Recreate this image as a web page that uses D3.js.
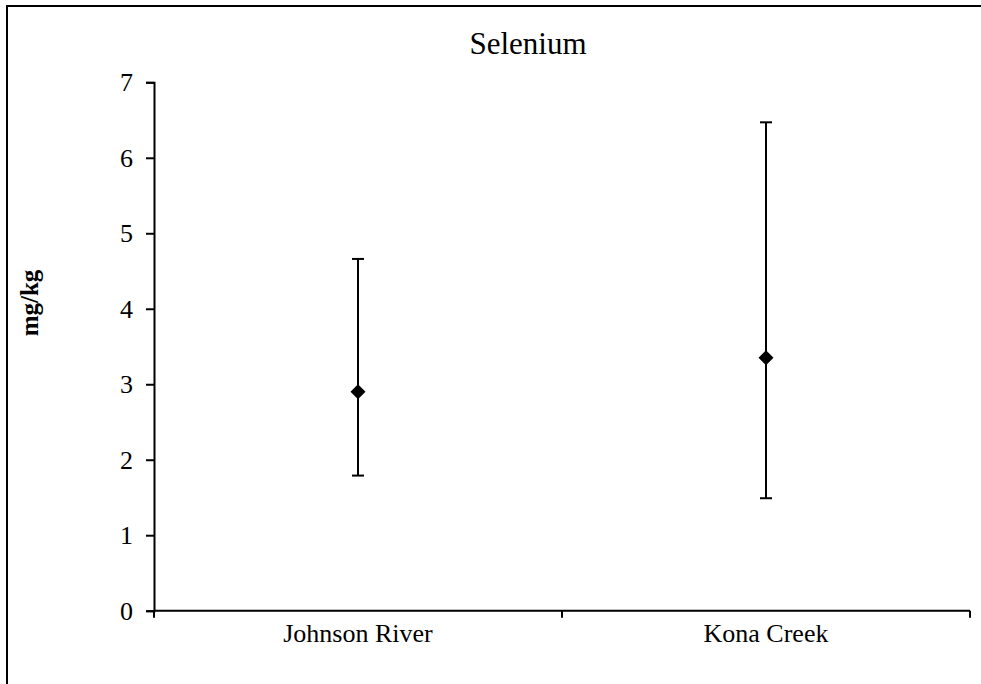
<!DOCTYPE html>
<html>
<head>
<meta charset="utf-8">
<script src="https://cdn.jsdelivr.net/npm/d3@7"></script>
<style>
  body { margin: 0; background: #fff; }
  svg { display: block; }
</style>
</head>
<body>
<svg id="chart" width="981" height="684"></svg>
<script>
// 数据
const sites = ["Johnson River", "Kona Creek"];
const means = [2.9, 3.35];
const lows = [1.79, 1.49];
const highs = [4.66, 6.47];
const yTicks = [0, 1, 2, 3, 4, 5, 6, 7];

const FONT = "'Liberation Serif', 'Times New Roman', serif";
const svg = d3.select("#chart");

// 外框（右侧与底部超出画面）
svg.append("rect")
  .attr("x", 7).attr("y", 6)
  .attr("width", 990).attr("height", 700)
  .attr("fill", "none")
  .attr("stroke", "#000")
  .attr("stroke-width", 2);

const plotLeft = 154, plotRight = 970, plotTop = 82.3, plotBottom = 610.7;

const x = d3.scaleBand().domain(sites).range([plotLeft, plotRight]);
const y = d3.scaleLinear().domain([0, 7]).range([plotBottom, plotTop]);

// y轴
const yAxis = svg.append("g")
  .attr("transform", `translate(${plotLeft},0)`)
  .call(d3.axisLeft(y).tickValues(yTicks).tickSize(8).tickPadding(13).tickFormat(d3.format("d")));
yAxis.selectAll("text")
  .style("font-family", FONT)
  .style("font-size", "26px")
  .style("fill", "#000");

// x轴
const xAxis = svg.append("g")
  .attr("transform", `translate(0,${plotBottom})`)
  .call(d3.axisBottom(x).tickSize(0).tickPadding(13));
xAxis.selectAll("text")
  .style("font-family", FONT)
  .style("font-size", "26px")
  .style("fill", "#000");
// 类别分隔刻度
const edges = [plotLeft, ...sites.slice(1).map((s) => x(s)), plotRight];
xAxis.selectAll(".edge")
  .data(edges)
  .enter()
  .append("line")
  .attr("x1", (d) => d).attr("x2", (d) => d)
  .attr("y1", 0).attr("y2", 7)
  .attr("stroke", "#000").attr("stroke-width", 2);

svg.selectAll(".domain, .tick line").attr("stroke", "#000").attr("stroke-width", 2);
xAxis.select(".domain").attr("d", `M${plotLeft},0H${plotRight}`);

// 误差线
const cx = (d) => x(d) + x.bandwidth() / 2;
const bars = svg.append("g");
sites.forEach((s, i) => {
  bars.append("line")
    .attr("x1", cx(s)).attr("x2", cx(s))
    .attr("y1", y(lows[i])).attr("y2", y(highs[i]))
    .attr("stroke", "#000").attr("stroke-width", 2);
  [lows[i], highs[i]].forEach((v) => {
    bars.append("line")
      .attr("x1", cx(s) - 6).attr("x2", cx(s) + 6)
      .attr("y1", y(v)).attr("y2", y(v))
      .attr("stroke", "#000").attr("stroke-width", 2);
  });
});

// 菱形点
svg.append("g")
  .selectAll("path")
  .data(sites)
  .enter()
  .append("path")
  .attr("d", (d, i) => {
    const px = cx(d), py = y(means[i]);
    return `M${px},${py - 7.5}L${px + 7.5},${py}L${px},${py + 7.5}L${px - 7.5},${py}Z`;
  })
  .attr("fill", "#000");

// 标题
svg.append("text")
  .attr("x", 528).attr("y", 54)
  .attr("text-anchor", "middle")
  .style("font-family", FONT)
  .style("font-size", "31px")
  .text("Selenium");

// y轴标题
svg.append("text")
  .attr("transform", "translate(38,303) rotate(-90)")
  .attr("text-anchor", "middle")
  .style("font-family", FONT)
  .style("font-size", "25px")
  .style("font-weight", "bold")
  .text("mg/kg");
</script>
</body>
</html>
